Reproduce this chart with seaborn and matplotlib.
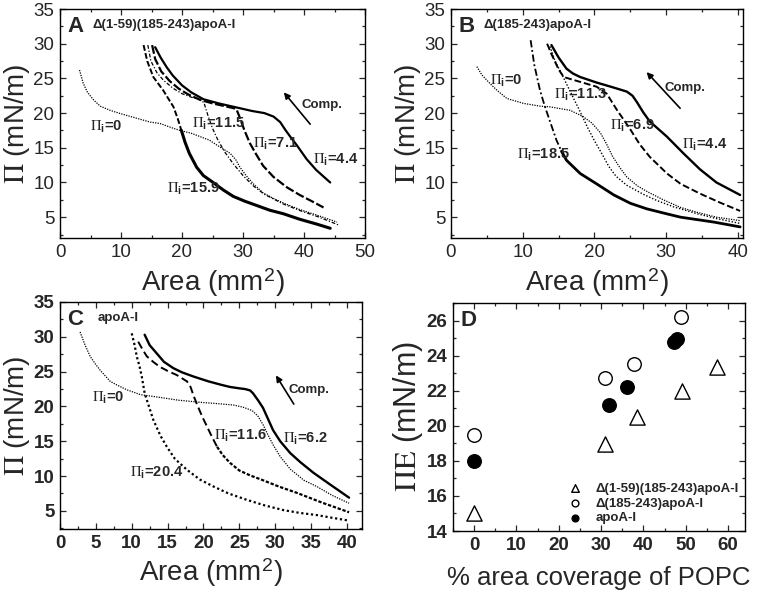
import matplotlib
matplotlib.use('Agg')
import matplotlib.pyplot as plt
import seaborn as sns
from matplotlib.ticker import MultipleLocator

# ---------------- data ----------------
# Panel A: delta(1-59)(185-243)apoA-I
a_pi0_x = [3.2, 3.8, 4.5, 5.5, 6.6, 8.2, 10.0, 12.0, 14.8, 16.4, 18.6, 19.7, 21.5, 23.0, 24.5, 25.7, 26.8, 27.9, 28.8, 29.5, 30.5, 31.7, 33.3, 35.0, 37.0, 39.3, 42.1, 45.4]
a_pi0_y = [26.2, 24.3, 23.0, 21.9, 21.0, 20.4, 19.9, 19.4, 18.7, 18.5, 17.8, 17.5, 17.1, 16.6, 16.1, 15.4, 14.8, 14.2, 13.3, 12.2, 11.0, 9.8, 8.5, 7.7, 6.9, 6.1, 5.3, 4.3]
a_pi115_x = [14.4, 14.9, 15.9, 17.0, 18.5, 20.0, 21.5, 23.0, 23.6, 24.2, 25.0, 25.9, 27.0, 28.4, 30.0, 31.7, 33.5, 36.6, 39.5, 42.5, 45.6]
a_pi115_y = [29.8, 27.5, 25.8, 24.7, 23.6, 22.8, 22.3, 21.9, 21.5, 19.8, 17.8, 16.1, 14.4, 12.7, 11.0, 9.5, 8.3, 6.9, 5.9, 5.0, 3.9]
a_pi71_x = [15.1, 15.6, 16.6, 18.0, 19.5, 21.0, 23.0, 25.0, 27.0, 28.5, 29.0, 29.5, 30.2, 31.1, 32.2, 33.3, 35.0, 37.2, 39.3, 41.5, 43.2]
a_pi71_y = [29.8, 27.8, 26.0, 24.6, 23.5, 22.7, 21.9, 21.4, 21.0, 20.7, 20.4, 19.3, 17.6, 15.7, 14.0, 12.4, 10.8, 9.3, 8.2, 7.2, 6.4]
a_pi44_x = [15.6, 16.5, 17.5, 18.5, 20.0, 21.5, 23.5, 26.0, 28.0, 30.0, 31.5, 33.5, 35.0, 36.1, 37.0, 38.0, 38.8, 40.4, 42.0, 44.3]
a_pi44_y = [29.5, 28.0, 26.6, 25.4, 24.0, 23.0, 22.0, 21.4, 21.0, 20.6, 20.3, 20.0, 19.5, 18.7, 17.5, 16.3, 15.4, 13.4, 11.8, 10.0]
a_pi159_x = [13.7, 14.3, 15.3, 16.9, 18.6, 19.3, 19.9, 20.5, 21.2, 22.4, 23.5, 25.1, 26.8, 28.4, 30.3, 32.2, 34.4, 36.6, 39.3, 42.1, 44.3]
a_pi159_y = [29.8, 27.5, 25.2, 23.3, 20.9, 19.2, 17.5, 15.8, 14.2, 12.2, 11.0, 10.0, 8.9, 8.0, 7.3, 6.7, 6.0, 5.5, 4.7, 4.0, 3.4]

# Panel B: delta(185-243)apoA-I
b_pi0_x = [3.6, 4.3, 5.4, 6.5, 7.8, 10.1, 12.4, 13.8, 16.6, 18.4, 19.6, 20.8, 21.7, 22.5, 23.5, 24.5, 26.0, 27.5, 29.6, 32.0, 34.3, 37.0, 40.3]
b_pi0_y = [26.7, 25.5, 24.3, 23.2, 22.1, 21.4, 21.0, 20.9, 20.4, 19.5, 18.6, 17.2, 15.5, 13.8, 12.2, 10.8, 9.5, 8.6, 7.5, 6.4, 5.7, 5.0, 4.5]
b_pi113_x = [13.8, 14.5, 15.4, 16.2, 17.0, 18.0, 19.0, 20.0, 21.0, 22.0, 23.0, 24.5, 26.8, 28.7, 31.0, 34.3, 37.0, 40.3]
b_pi113_y = [29.6, 27.5, 25.7, 24.0, 22.3, 20.2, 18.0, 16.0, 14.2, 12.3, 10.9, 9.6, 8.3, 7.4, 6.5, 5.5, 4.8, 4.1]
b_pi69_x = [13.4, 14.0, 15.0, 15.7, 17.0, 18.0, 20.3, 21.7, 23.1, 24.9, 26.3, 27.7, 30.1, 32.0, 34.7, 37.5, 40.3]
b_pi69_y = [30.0, 28.5, 26.3, 25.2, 24.8, 24.5, 23.8, 22.8, 20.5, 17.8, 15.5, 13.7, 11.3, 9.8, 8.4, 7.1, 5.9]
b_pi44_x = [14.0, 15.0, 16.1, 17.0, 18.0, 20.3, 22.6, 24.5, 25.3, 25.9, 26.8, 27.7, 30.1, 32.4, 34.7, 37.0, 40.3]
b_pi44_y = [29.8, 28.0, 26.4, 25.7, 25.2, 24.4, 23.7, 23.1, 22.5, 21.6, 20.1, 18.8, 16.6, 14.2, 11.9, 10.0, 8.2]
b_pi185_x = [11.1, 11.6, 12.4, 13.1, 14.0, 14.7, 15.4, 16.1, 18.0, 20.3, 22.7, 25.0, 27.3, 30.0, 32.0, 36.6, 40.3]
b_pi185_y = [30.5, 27.0, 23.3, 20.9, 18.2, 16.1, 14.5, 13.2, 11.3, 9.8, 8.2, 7.0, 6.2, 5.5, 5.0, 4.3, 3.6]

# Panel C: apoA-I
c_pi0_x = [2.8, 3.5, 4.2, 5.0, 5.6, 7.0, 7.9, 9.3, 11.2, 13.9, 16.5, 19.5, 22.0, 24.2, 25.5, 26.8, 27.6, 28.3, 29.0, 29.7, 30.7, 32.1, 34.0, 35.8, 38.0, 40.3]
c_pi0_y = [30.7, 28.8, 27.2, 26.0, 25.2, 23.6, 23.1, 22.4, 21.7, 21.3, 20.9, 20.6, 20.4, 20.2, 19.9, 19.4, 18.6, 17.4, 15.9, 14.5, 12.8, 11.0, 9.4, 8.5, 7.2, 6.1]
c_pi62_x = [11.8, 12.5, 13.5, 14.5, 15.8, 17.0, 18.6, 20.7, 22.5, 23.7, 25.0, 25.8, 26.5, 26.9, 27.6, 28.3, 29.0, 29.7, 30.7, 32.1, 33.5, 35.3, 37.5, 40.3]
c_pi62_y = [30.3, 28.8, 27.6, 26.4, 25.5, 24.9, 24.3, 23.6, 23.1, 22.8, 22.6, 22.5, 22.3, 21.9, 20.9, 19.8, 18.2, 16.6, 15.0, 13.3, 12.0, 10.5, 8.9, 6.9]
c_pi116_x = [10.9, 11.5, 12.1, 13.0, 13.9, 15.0, 16.3, 17.7, 18.2, 18.6, 19.1, 19.8, 20.5, 21.2, 21.9, 22.7, 23.7, 25.0, 26.5, 28.3, 30.5, 33.0, 36.5, 40.3]
c_pi116_y = [29.3, 28.2, 27.2, 26.4, 25.7, 25.1, 24.5, 23.6, 22.8, 21.6, 20.3, 18.6, 17.1, 15.6, 14.2, 13.0, 11.9, 10.8, 10.1, 9.4, 8.5, 7.6, 6.2, 4.8]
c_pi204_x = [10.0, 10.4, 10.7, 11.1, 11.4, 11.8, 12.4, 13.0, 14.0, 14.9, 16.0, 17.7, 19.5, 21.4, 23.5, 26.0, 28.5, 31.2, 33.5, 35.8, 38.0, 40.3]
c_pi204_y = [30.5, 28.8, 27.2, 25.7, 24.3, 21.9, 20.0, 18.1, 15.8, 14.2, 12.5, 10.9, 9.5, 8.5, 7.5, 6.6, 5.8, 5.1, 4.7, 4.4, 4.0, 3.6]

# Panel D: equilibrium pressure vs % area coverage of POPC
d_tri_x = [0.0, 30.9, 38.4, 49.0, 57.4]
d_tri_y = [15.0, 18.95, 20.5, 22.0, 23.35]
d_open_x = [0.0, 31.0, 37.7, 48.8]
d_open_y = [19.5, 22.7, 23.5, 26.2]
d_fill_x = [0.0, 31.9, 36.1, 47.2, 48.0]
d_fill_y = [18.0, 21.2, 22.2, 24.75, 24.95]
d_labels = ['\u0394(1-59)(185-243)apoA-I', '\u0394(185-243)apoA-I', 'apoA-I']

# ---------------- style ----------------
sns.set_theme(style='ticks')
plt.rcParams['font.family'] = ['Liberation Sans', 'DejaVu Sans']
plt.rcParams['mathtext.fontset'] = 'stix'
plt.rcParams['xtick.direction'] = 'in'
plt.rcParams['ytick.direction'] = 'in'
plt.rcParams['axes.linewidth'] = 1.0

W, H = 759, 591
fig = plt.figure(figsize=(W / 100, H / 100), dpi=100)

def box(l, t, r, b):
    return [l / W, 1 - b / H, (r - l) / W, (b - t) / H]

axA = fig.add_axes(box(60, 9, 365, 238))
axB = fig.add_axes(box(451, 9, 743, 238))
axC = fig.add_axes(box(60, 302, 362, 529))
axD = fig.add_axes(box(453, 303, 745, 531))

def curve(ax, x, y, ls, lw):
    sns.lineplot(x=x, y=y, ax=ax, sort=False, estimator=None, color='black',
                 linestyle=ls, linewidth=lw)

def frame(ax, xlim, ylim, xmaj, xmin, ymaj, ymin, bold, ylabel, xlabel,
          xsize=20, ysize=20, xpad=4):
    ax.set_xlim(*xlim)
    ax.set_ylim(*ylim)
    ax.xaxis.set_major_locator(MultipleLocator(xmaj))
    ax.xaxis.set_minor_locator(MultipleLocator(xmin))
    ax.yaxis.set_major_locator(MultipleLocator(ymaj))
    ax.yaxis.set_minor_locator(MultipleLocator(ymin))
    ax.tick_params(which='both', top=True, right=True, direction='in', width=0.9)
    ax.tick_params(which='major', length=4.5, labelsize=13.5, pad=4)
    ax.tick_params(which='minor', length=2.5)
    for lab in ax.get_xticklabels() + ax.get_yticklabels():
        lab.set_fontweight('bold' if bold else 'normal')
    ax.set_ylabel(ylabel, fontsize=ysize, labelpad=1)
    ax.set_xlabel(xlabel, fontsize=xsize, labelpad=xpad)
    for s in ax.spines.values():
        s.set_visible(True)
        s.set_color('black')

def pilabel(ax, x, y, val):
    ax.text(x, y, r'$\Pi_\mathregular{i}$=' + val, fontsize=10.5, fontweight='bold',
            ha='left', va='center')

def comp(ax, tail, head, txt):
    ax.annotate('', xy=head, xytext=tail,
                arrowprops=dict(arrowstyle='-|>', color='black', lw=1.2, mutation_scale=9))
    ax.text(txt[0], txt[1], 'Comp.', fontsize=9.5, fontweight='bold', ha='left', va='center')

def title(ax, letter, name, xn):
    ax.text(0.025, 0.925, letter, transform=ax.transAxes, fontsize=16, fontweight='bold',
            ha='left', va='center')
    if name:
        ax.text(xn, 0.93, name, transform=ax.transAxes, fontsize=9.5, fontweight='bold',
                ha='left', va='center')

area_label = 'Area (mm$^\\mathregular{2}$)'
pi_label = '$\\Pi$ (mN/m)'

# ---------------- Panel A ----------------
curve(axA, a_pi0_x, a_pi0_y, (0, (1, 1)), 0.9)
curve(axA, a_pi115_x, a_pi115_y, (0, (3, 1.5, 1, 1.5)), 0.9)
curve(axA, a_pi71_x, a_pi71_y, (0, (4, 1.2)), 1.6)
curve(axA, a_pi44_x, a_pi44_y, '-', 1.6)
curve(axA, a_pi159_x[:7], a_pi159_y[:7], (0, (3, 1.2)), 1.4)
curve(axA, a_pi159_x[6:], a_pi159_y[6:], '-', 2.2)
frame(axA, (0, 50), (2, 35), 10, 5, 5, 2.5, False, pi_label, area_label)
title(axA, 'A', '\u0394(1-59)(185-243)apoA-I', 0.105)
pilabel(axA, 4.9, 18.0, '0')
pilabel(axA, 21.6, 18.5, '11.5')
pilabel(axA, 31.7, 15.6, '7.1')
pilabel(axA, 41.5, 13.3, '4.4')
pilabel(axA, 17.5, 9.0, '15.9')
comp(axA, (41.3, 18.1), (36.4, 23.3), (39.6, 21.1))

# ---------------- Panel B ----------------
curve(axB, b_pi0_x, b_pi0_y, (0, (1, 1)), 0.9)
curve(axB, b_pi113_x, b_pi113_y, (0, (1, 1.3)), 1.0)
curve(axB, b_pi69_x, b_pi69_y, (0, (3.5, 1.5)), 1.4)
curve(axB, b_pi44_x, b_pi44_y, '-', 1.7)
curve(axB, b_pi185_x[:7], b_pi185_y[:7], (0, (4, 1.5, 1, 1.5)), 1.3)
curve(axB, b_pi185_x[6:], b_pi185_y[6:], '-', 2.0)
frame(axB, (0, 40.7), (2, 35), 10, 5, 5, 2.5, False, pi_label, area_label)
title(axB, 'B', '\u0394(185-243)apoA-I', 0.11)
pilabel(axB, 5.4, 24.7, '0')
pilabel(axB, 14.3, 22.6, '11.3')
pilabel(axB, 22.2, 18.2, '6.9')
pilabel(axB, 32.2, 15.4, '4.4')
pilabel(axB, 9.2, 13.9, '18.5')
comp(axB, (32.2, 20.4), (27.0, 26.2), (29.8, 23.6))

# ---------------- Panel C ----------------
curve(axC, c_pi0_x, c_pi0_y, (0, (1, 1)), 0.9)
curve(axC, c_pi62_x, c_pi62_y, '-', 1.7)
curve(axC, c_pi116_x[:15], c_pi116_y[:15], (0, (4, 2)), 1.4)
curve(axC, c_pi116_x[14:], c_pi116_y[14:], (0, (1.5, 0.8)), 1.6)
curve(axC, c_pi204_x, c_pi204_y, (0, (1, 1.2)), 1.6)
frame(axC, (0, 42.1), (2.4, 35), 5, 2.5, 5, 2.5, True, pi_label, area_label, xpad=3)
title(axC, 'C', 'apoA-I', 0.125)
pilabel(axC, 4.4, 21.2, '0')
pilabel(axC, 21.4, 15.7, '11.6')
pilabel(axC, 31.1, 15.4, '6.2')
pilabel(axC, 9.8, 10.4, '20.4')
comp(axC, (32.8, 20.0), (29.9, 24.8), (31.8, 22.4))

# ---------------- Panel D ----------------
sns.scatterplot(x=d_tri_x, y=d_tri_y, ax=axD, marker='^', s=120, facecolor='white',
                edgecolor='black', linewidth=1.0, label=d_labels[0])
sns.scatterplot(x=d_open_x, y=d_open_y, ax=axD, marker='o', s=95, facecolor='white',
                edgecolor='black', linewidth=1.0, label=d_labels[1])
sns.scatterplot(x=d_fill_x, y=d_fill_y, ax=axD, marker='o', s=95, facecolor='black',
                edgecolor='black', linewidth=1.0, label=d_labels[2])
frame(axD, (-5, 64), (14, 27), 10, 5, 2, 1, True, '$\\Pi\\mathrm{E}$ (mN/m)',
      '% area coverage of POPC', xsize=18.5, ysize=22, xpad=9)
axD.text(0.025, 0.925, 'D', transform=axD.transAxes, fontsize=16, fontweight='bold',
         ha='left', va='center')
axD.legend(loc='lower right', frameon=False, markerscale=0.5, handletextpad=0.5,
           labelspacing=0.2, borderaxespad=0.1, prop={'weight': 'bold', 'size': 9.5})

fig.savefig('out.png', dpi=100)
